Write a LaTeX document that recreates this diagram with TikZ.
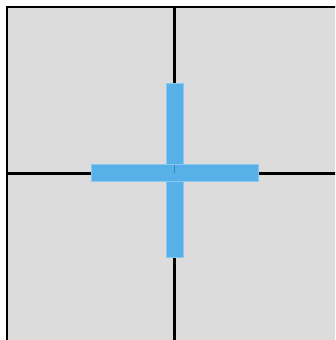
\documentclass[tikz,border=0pt]{standalone}
\usepackage{tikz}
\usetikzlibrary{positioning}

\definecolor{panelgrey}{RGB}{220,220,220}
\definecolor{barblue}{RGB}{88,176,232}
\definecolor{seamblue}{RGB}{60,130,180}

\begin{document}
\begin{tikzpicture}[x=0.02cm, y=-0.02cm,
    gl/.style={draw=black, line width=2.4*0.02cm},
    bar/.style={rectangle, fill=barblue, draw=barblue!70!white, line width=0.02cm,
                inner sep=0pt, outer sep=0pt},
  ]
  \useasboundingbox (0,0) rectangle (335,340);
  \clip (0,0) rectangle (335,340);
  % quadrants
  \coordinate (nw) at (7,7);
  \coordinate (se) at (341,341);
  \coordinate (c) at (174.5,173.5);
  \fill[panelgrey] (nw) rectangle (se);
  \draw[gl] (nw) rectangle (se);
  \draw[gl] (c |- nw) -- (c |- se);
  \draw[gl] (c -| nw) -- (c -| se);
  % blue cross
  \node[bar, minimum width=17*0.02cm, minimum height=173*0.02cm] (vbar) at (174.5,170.5) {};
  \node[bar, minimum width=167*0.02cm, minimum height=17*0.02cm] (hbar) at (c) {};
  \draw[seamblue, line width=0.02cm] (hbar.north -| c) -- (c);
\end{tikzpicture}
\end{document}
